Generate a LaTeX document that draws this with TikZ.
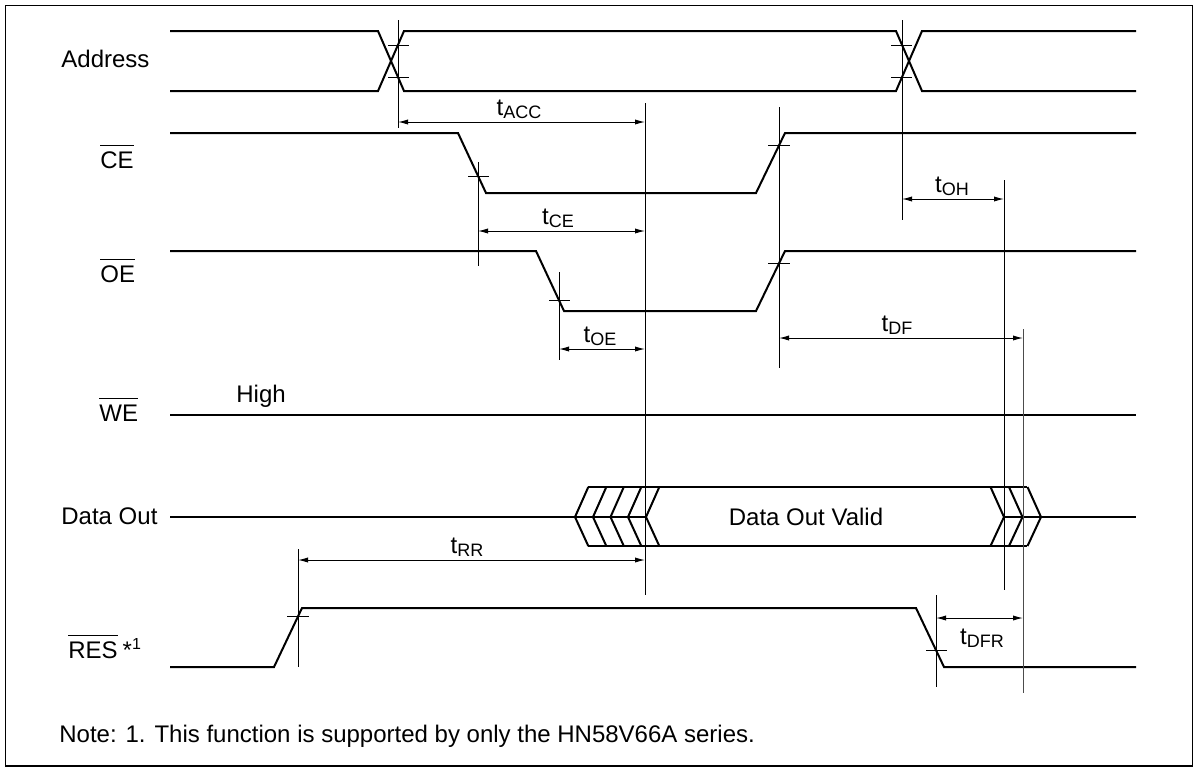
\documentclass[tikz,border=0pt]{standalone}
\usepackage{fontspec}
\setmainfont{Liberation Sans}
\usetikzlibrary{arrows.meta}
\newcommand\ovl[1]{\leavevmode\setbox0\hbox{#1}\rlap{\rule[0.93em]{\wd0}{0.5pt}}\box0}
\newcommand\tsb[1]{t\raisebox{-1.5pt}{\fontsize{9}{10}\selectfont #1}}
\begin{document}
\begin{tikzpicture}[x=0.5pt,y=-0.5pt,
  sig/.style={line width=1pt, line join=miter, line cap=butt},
  refl/.style={line width=0.5pt},
  tk/.style={line width=0.5pt},
  dim/.style={line width=0.5pt, {Latex[length=5pt,width=2.6pt]}-{Latex[length=5pt,width=2.6pt]}},
  lbl/.style={font=\fontsize{12}{14}\selectfont, inner sep=0pt, anchor=base west},
  tl/.style={font=\fontsize{12}{14}\selectfont, inner sep=0pt, anchor=base}]
\useasboundingbox (0,0) rectangle (1199,772);
\draw[line width=0.6pt] (5.5,5.5) rectangle (1192.5,766);

% ---------- signal labels ----------
\node[lbl] (lAddr) at (61,67) {Address};
\node[lbl] (lCE) at (100,168) {\ovl{CE}};
\node[lbl] (lOE) at (100,282) {\ovl{OE}};
\node[lbl] (lWE) at (99,421) {\ovl{WE}};
\node[lbl] (lHigh) at (236,402) {High};
\node[lbl] (lData) at (61,524) {Data Out};
\node[lbl] (lRES) at (68,658) {\ovl{RES}\hspace{2.5pt}*\textsuperscript{1}};
\node[lbl] (lNote) at (59,742) {Note: 1. This function is supported by only the HN58V66A series.};

% ---------- Address ----------
\draw[sig] (170,31) -- (378,31) -- (404,91) -- (896,91) -- (922,31) -- (1136,31);
\draw[sig] (170,91) -- (378,91) -- (404,31) -- (896,31) -- (922,91) -- (1136,91);
\draw[tk] (388,45) -- (409,45) (388,77) -- (409,77);
\draw[tk] (891,45) -- (912,45) (891,77) -- (912,77);

% ---------- CE ----------
\draw[sig] (170,133) -- (458,133) -- (486,193) -- (756,193) -- (785,133) -- (1136,133);
\draw[tk] (468,176) -- (489,176);
\draw[tk] (768,145) -- (790,145);

% ---------- OE ----------
\draw[sig] (170,251) -- (536,251) -- (564,311) -- (756,311) -- (785,251) -- (1136,251);
\draw[tk] (549,300) -- (570,300);
\draw[tk] (768,263) -- (790,263);

% ---------- WE ----------
\draw[sig] (170,415) -- (1136,415);

% ---------- Data Out ----------
\draw[sig] (170,517) -- (646,517);
\draw[sig] (1004,517) -- (1136,517);
\draw[sig] (588,487) -- (1027,487);
\draw[sig] (588,546) -- (1027,546);
\foreach \t in {575,593,610.5,628,646}{
  \draw[sig] (\t+13.3,487) -- (\t,517) -- (\t+13.3,546);
}
\foreach \t in {1004,1022.5,1041}{
  \draw[sig] (\t-13.5,487) -- (\t,517) -- (\t-13.5,546);
}
\node[font=\fontsize{12}{14}\selectfont, inner sep=0pt] (lValid) at (806,517) {Data Out Valid};

% ---------- RES ----------
\draw[sig] (170,667) -- (274,667) -- (302,608) -- (916,608) -- (944,667) -- (1136,667);
\draw[tk] (287,616) -- (309,616);
\draw[tk] (926,650) -- (947,650);

% ---------- reference lines ----------
\draw[refl] (398,20) -- (398,128);
\draw[refl] (902,20) -- (902,220);
\draw[refl] (478,162) -- (478,266);
\draw[refl] (779,107) -- (779,368);
\draw[refl] (645,103) -- (645,595);
\draw[refl] (559,272) -- (559,360);
\draw[refl] (1004,180) -- (1004,590);
\draw[refl, black!70] (1023,329) -- (1023,693);
\draw[refl] (298,549) -- (298,667);
\draw[refl] (936,595) -- (936,687);

% ---------- timing dimensions ----------
\coordinate (acc1) at (398,122); \coordinate (acc2) at (645,122);
\coordinate (ce1) at (478,231);  \coordinate (ce2) at (645,231);
\coordinate (oe1) at (559,349);  \coordinate (oe2) at (645,349);
\coordinate (oh1) at (902,199);  \coordinate (oh2) at (1004,199);
\coordinate (df1) at (779,338);  \coordinate (df2) at (1023,338);
\coordinate (rr1) at (298,560);  \coordinate (rr2) at (645,560);
\coordinate (dfr1) at (936,618); \coordinate (dfr2) at (1023,618);
\draw[dim] (acc1) -- (acc2);
\draw[dim] (ce1) -- (ce2);
\draw[dim] (oe1) -- (oe2);
\draw[dim] (oh1) -- (oh2);
\draw[dim] (df1) -- (df2);
\draw[dim] (rr1) -- (rr2);
\draw[dim] (dfr1) -- (dfr2);
\node[tl] (tACC) at (519,115) {\tsb{ACC}};
\node[tl] (tCE) at (558,224) {\tsb{CE}};
\node[tl] (tOE) at (600,342) {\tsb{OE}};
\node[tl] (tOH) at (952,192) {\tsb{OH}};
\node[tl] (tDF) at (897,331) {\tsb{DF}};
\node[tl] (tRR) at (467,553) {\tsb{RR}};
\node[tl] (tDFR) at (982,644) {\tsb{DFR}};
\end{tikzpicture}
\end{document}
